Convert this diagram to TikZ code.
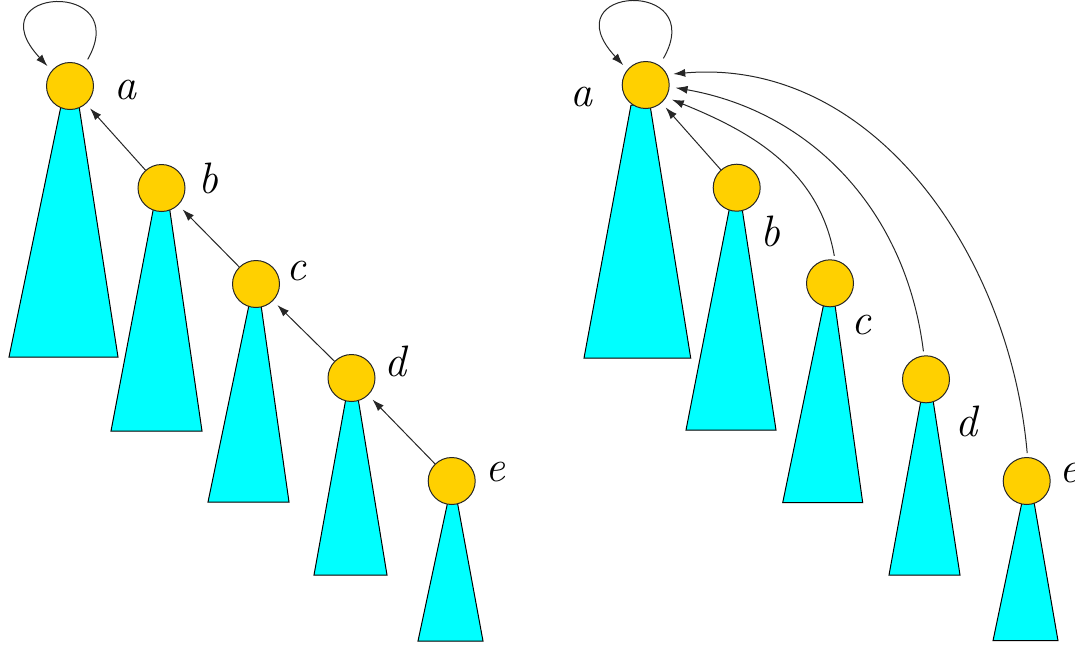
\documentclass[tikz,border=0pt]{standalone}
\usepackage{tikz}
\usetikzlibrary{arrows.meta}

\definecolor{rootgold}{RGB}{255,208,0}
\definecolor{treecyan}{RGB}{0,255,255}

\tikzset{
  root/.style={circle, draw=black!85, fill=rootgold, line width=0.5pt, minimum size=23.5pt, inner sep=0pt},
  subtree/.style={draw=black, fill=treecyan, line width=0.5pt},
  link/.style={draw=black!85, line width=0.5pt, -{Latex[length=6pt,width=4pt]}, shorten >=3pt},
  letter/.style={font=\fontsize{22}{26}\selectfont\itshape, inner sep=0pt}
}

\begin{document}
\begin{tikzpicture}[x=0.5pt, y=0.5pt]
                        \useasboundingbox (0,0) rectangle (1075,-644);

                        % subtrees, before compression
                        \draw[subtree] (61,-106) -- (79,-106) -- (118,-357) -- (9,-357) -- cycle;
                        \draw[subtree] (153.5,-208) -- (169.5,-208) -- (202,-431) -- (111,-431) -- cycle;
                        \draw[subtree] (249,-305) -- (261,-305) -- (289,-502) -- (208,-502) -- cycle;
                        \draw[subtree] (346,-398) -- (358,-398) -- (387,-575) -- (314,-575) -- cycle;
                        \draw[subtree] (447.5,-503) -- (457.5,-503) -- (483,-641) -- (418,-641) -- cycle;

                        % subtrees, after compression
                        \draw[subtree] (631,-105) -- (650,-105) -- (690.7,-358) -- (584,-358) -- cycle;
                        \draw[subtree] (729.5,-208) -- (742,-208) -- (776,-430) -- (686,-430) -- cycle;
                        \draw[subtree] (823.5,-305) -- (835,-305) -- (862.7,-502.7) -- (782.7,-502.7) -- cycle;
                        \draw[subtree] (921,-400) -- (933,-400) -- (960,-575) -- (889,-575) -- cycle;
                        \draw[subtree] (1022,-502) -- (1034,-502) -- (1058,-640.7) -- (993,-640.7) -- cycle;

                        \node[root] (la) at (70, -86) {};
                        \node[root] (lb) at (161.5, -188) {};
                        \node[root] (lc) at (256, -284) {};
                        \node[root] (ld) at (351.5, -378) {};
                        \node[root] (le) at (451.7, -481) {};
                        \node[letter] (lat) at (125, -90) {a};
                        \node[letter] (lbt) at (208, -178) {b};
                        \node[letter] (lct) at (296.7, -270.7) {c};
                        \node[letter] (ldt) at (395, -361.7) {d};
                        \node[letter] (let) at (495, -471.7) {e};

                        \node[root] (ra) at (645.7, -85) {};
                        \node[root] (rb) at (736.7, -187.7) {};
                        \node[root] (rc) at (830, -283.3) {};
                        \node[root] (rd) at (926, -379.3) {};
                        \node[root] (re) at (1026.7, -481) {};
                        \node[letter] (rat) at (581.7, -96.7) {a};
                        \node[letter] (rbt) at (770, -231.7) {b};
                        \node[letter] (rct) at (861.7, -325) {c};
                        \node[letter] (rdt) at (966.7, -421.7) {d};
                        \node[letter] (ret) at (1069, -473) {e};

                        \draw[link] (le) -- (ld);
                        \draw[link] (ld) -- (lc);
                        \draw[link] (lc) -- (lb);
                        \draw[link] (lb) -- (la);
                        \draw[link, shorten <=4pt] (la.55) .. controls +(50,88) and +(-78,84) .. (la.140);

                        \draw[link] (rb) -- (ra);
                        \draw[link, shorten <=2pt] (rc.78) to[out=100, in=-22] (ra.-31);
                        \draw[link, shorten <=2pt] (rd.95) to[out=97, in=-10] (ra.-4);
                        \draw[link, shorten <=2pt] (re.88) to[out=95, in=5] (ra.26);
                        \draw[link, shorten <=4pt] (ra.55) .. controls +(50,88) and +(-78,84) .. (ra.140);
                    \end{tikzpicture}
\end{document}
